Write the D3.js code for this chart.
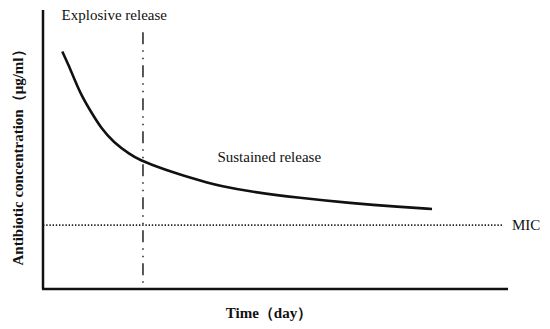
<!DOCTYPE html>
<html lang="en">
<head>
<meta charset="utf-8">
<title>Antibiotic release curve</title>
<script src="https://d3js.org/d3.v7.min.js"></script>
<style>
    body { margin: 0; background: #fff; }
    text { font-family: "Liberation Serif", "Times New Roman", serif; fill: #111; }
</style>
</head>
<body>
<div id="chart"></div>
<script>
    // curve, arbitrary units (time 0-100, concentration 0-100)
    var timeVals = [4.15, 5.44, 6.88, 8.32, 10.06, 12.62, 15.12, 18.71, 20.86, 24.45, 28.02, 31.61,
        35.20, 38.06, 44.52, 55.27, 66.02, 76.77, 83.66];
    var concVals = [85.1, 80.5, 74.7, 69.2, 64.2, 57.3, 52.7, 48.2, 46.2, 43.9, 41.8, 39.9,
        38.2, 37.0, 34.9, 32.6, 30.8, 29.4, 28.7];
    var micLevel = 22.9;
    var burstEnd = 21.5;
    var labels = {
        burst: "Explosive release",
        sustained: "Sustained release",
        mic: "MIC",
        xTitle: "Time（day）",
        yTitle: "Antibiotic concentration（μg/ml）"
    };

    var W = 550, H = 329,
        m = {top: 10, right: 42, bottom: 40, left: 43};

    var x = d3.scaleLinear().domain([0, 100]).range([m.left, W - m.right]);
    var y = d3.scaleLinear().domain([0, 100]).range([H - m.bottom, m.top]);

    var svg = d3.select("#chart").append("svg")
        .attr("width", W).attr("height", H);

    // MIC dotted line
    svg.append("line")
        .attr("x1", x(0)).attr("x2", x(99))
        .attr("y1", y(micLevel)).attr("y2", y(micLevel))
        .attr("stroke", "#222").attr("stroke-width", 1.6)
        .attr("stroke-dasharray", "1.4,1.8");

    // end of burst phase, dash-dot-dot
    svg.append("line")
        .attr("x1", x(burstEnd)).attr("x2", x(burstEnd))
        .attr("y1", y(92)).attr("y2", y(0))
        .attr("stroke", "#222").attr("stroke-width", 1.5)
        .attr("stroke-dasharray", "12,6,1.5,6,1.5,6");

    // axes drawn as plain lines (no ticks in the original)
    svg.append("line")
        .attr("x1", x(0)).attr("x2", x(0))
        .attr("y1", y(100)).attr("y2", y(0))
        .attr("stroke", "#111").attr("stroke-width", 2.5);
    svg.append("line")
        .attr("x1", x(0) - 1).attr("x2", x(100))
        .attr("y1", y(0)).attr("y2", y(0))
        .attr("stroke", "#111").attr("stroke-width", 2.5);

    var pts = timeVals.map(function (t, i) { return [t, concVals[i]]; });
    var line = d3.line()
        .x(function (d) { return x(d[0]); })
        .y(function (d) { return y(d[1]); })
        .curve(d3.curveBasis);

    svg.append("path").datum(pts)
        .attr("d", line)
        .attr("fill", "none")
        .attr("stroke", "#111")
        .attr("stroke-width", 2.6);

    svg.append("text")
        .attr("x", x(4)).attr("y", 20)
        .attr("font-size", 15)
        .text(labels.burst);

    svg.append("text")
        .attr("x", x(37.5)).attr("y", 162)
        .attr("font-size", 15)
        .text(labels.sustained);

    svg.append("text")
        .attr("x", 512).attr("y", y(micLevel) + 5)
        .attr("font-size", 15)
        .text(labels.mic);

    svg.append("text")
        .attr("x", 269).attr("y", 318)
        .attr("text-anchor", "middle")
        .attr("font-size", 15).attr("font-weight", "bold")
        .text(labels.xTitle);

    svg.append("text")
        .attr("transform", "translate(23,154) rotate(-90)")
        .attr("text-anchor", "middle")
        .attr("font-size", 15).attr("font-weight", "bold")
        .text(labels.yTitle);
</script>
</body>
</html>
